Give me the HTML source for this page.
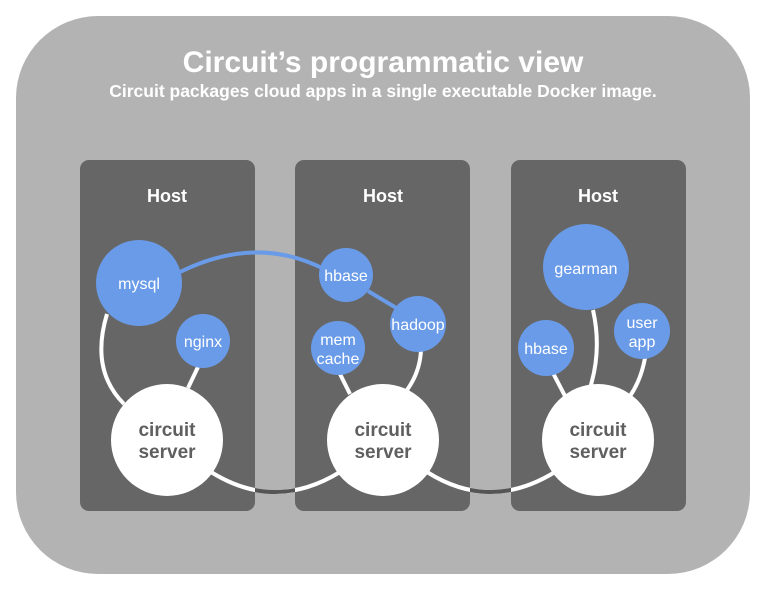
<!DOCTYPE html>
<html><head><meta charset="utf-8"><style>
html,body{margin:0;padding:0;background:#fff;}
svg{display:block;font-family:"Liberation Sans",sans-serif;}
</style></head><body>
<svg width="770" height="594" viewBox="0 0 770 594">
<defs>
<clipPath id="g1"><rect x="255" y="440" width="40" height="80"/></clipPath>
<clipPath id="g2"><rect x="470" y="440" width="41" height="80"/></clipPath>
</defs>
<rect x="16" y="16" width="734" height="558" rx="82" fill="#b3b3b3"/>
<text x="383" y="72" text-anchor="middle" fill="#fff" font-size="30" font-weight="bold">Circuit’s programmatic view</text>
<text x="383" y="97" text-anchor="middle" fill="#fff" font-size="17.5" font-weight="bold">Circuit packages cloud apps in a single executable Docker image.</text>
<rect x="80" y="160" width="175" height="351" rx="9" fill="#666"/>
<rect x="295" y="160" width="175" height="351" rx="9" fill="#666"/>
<rect x="511" y="160" width="175" height="351" rx="9" fill="#666"/>
<g fill="#fff" font-size="18" font-weight="bold" text-anchor="middle">
<text x="167" y="202">Host</text><text x="383" y="202">Host</text><text x="598" y="202">Host</text>
</g>
<g fill="none" stroke="#fff" stroke-width="4">
<path d="M107 314 Q90 370 124 404"/>
<path d="M198 367 L188 388"/>
<path d="M340 374 L350 394"/>
<path d="M421 350 Q420 372 407 390"/>
<path d="M593 310 Q602 350 590 388"/>
<path d="M553 373 L565 396"/>
<path d="M645 358 Q641 380 630 396"/>
<path d="M211 472 Q275 512 340 472"/>
<path d="M427 472 Q490 512 555 472"/>
</g>
<g fill="none" stroke="#555" stroke-width="4">
<path d="M211 472 Q275 512 340 472" clip-path="url(#g1)"/>
<path d="M427 472 Q490 512 555 472" clip-path="url(#g2)"/>
</g>
<g fill="none" stroke="#6a9be8" stroke-width="4">
<path d="M180 272 Q255 235 322 268"/>
<path d="M368 291 L398 309"/>
</g>
<g fill="#6a9be8">
<circle cx="139" cy="283" r="43"/><circle cx="203" cy="341" r="27"/>
<circle cx="346" cy="275" r="27"/><circle cx="418" cy="324" r="28"/><circle cx="338" cy="348" r="27"/>
<circle cx="586" cy="267" r="43"/><circle cx="546" cy="348" r="28"/><circle cx="642" cy="331" r="28"/>
</g>
<g fill="#fff">
<circle cx="167" cy="440" r="56"/><circle cx="383" cy="440" r="56"/><circle cx="598" cy="440" r="56"/>
</g>
<g fill="#fff" font-size="16" text-anchor="middle">
<text x="139" y="289">mysql</text><text x="203" y="347">nginx</text>
<text x="346" y="281">hbase</text><text x="418" y="330">hadoop</text>
<text x="338" y="345">mem</text><text x="338" y="364">cache</text>
<text x="586" y="274">gearman</text><text x="546" y="354">hbase</text>
<text x="642" y="328">user</text><text x="642" y="347">app</text>
</g>
<g fill="#5f5f5f" font-size="19" font-weight="bold" text-anchor="middle">
<text x="167" y="436">circuit</text><text x="167" y="458">server</text>
<text x="383" y="436">circuit</text><text x="383" y="458">server</text>
<text x="598" y="436">circuit</text><text x="598" y="458">server</text>
</g>
</svg>
</body></html>
